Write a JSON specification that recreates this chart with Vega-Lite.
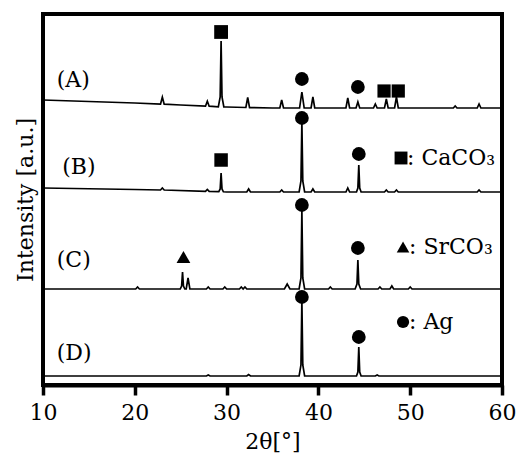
{
  "$schema": "https://vega.github.io/schema/vega-lite/v6.json",
  "width": 459,
  "height": 371,
  "autosize": {"type": "none"},
  "padding": {"left": 43, "top": 14, "right": 15, "bottom": 70},
  "background": "white",
  "config": {
    "view": {"stroke": "black", "strokeWidth": 4},
    "font": "DejaVu Serif",
    "axis": {"grid": false}
  },
  "datasets": {
    "xrd": [
      {"s":"A","t":10,"i":285},{"s":"A","t":15,"i":283.5},{"s":"A","t":20,"i":282},
      {"s":"A","t":22.8,"i":280.8},{"s":"A","t":23.0,"i":287.8},{"s":"A","t":23.2,"i":280.8},
      {"s":"A","t":25,"i":280},
      {"s":"A","t":27.7,"i":278.8},{"s":"A","t":27.9,"i":283.8},{"s":"A","t":28.1,"i":278.8},
      {"s":"A","t":29.1,"i":278.2},{"s":"A","t":29.3,"i":288},{"s":"A","t":29.4,"i":344},{"s":"A","t":29.5,"i":288},{"s":"A","t":29.7,"i":278},
      {"s":"A","t":30,"i":278},
      {"s":"A","t":32.1,"i":277.5},{"s":"A","t":32.3,"i":287.5},{"s":"A","t":32.5,"i":277.4},
      {"s":"A","t":35,"i":277},
      {"s":"A","t":35.8,"i":277},{"s":"A","t":36.0,"i":285},{"s":"A","t":36.2,"i":277},
      {"s":"A","t":37.95,"i":277},{"s":"A","t":38.2,"i":293},{"s":"A","t":38.45,"i":277},
      {"s":"A","t":39.2,"i":277},{"s":"A","t":39.4,"i":288},{"s":"A","t":39.6,"i":277},
      {"s":"A","t":43.0,"i":277},{"s":"A","t":43.2,"i":287},{"s":"A","t":43.4,"i":277},
      {"s":"A","t":44.1,"i":277},{"s":"A","t":44.3,"i":283},{"s":"A","t":44.5,"i":277},
      {"s":"A","t":46.0,"i":277},{"s":"A","t":46.2,"i":281},{"s":"A","t":46.4,"i":277},
      {"s":"A","t":47.2,"i":277},{"s":"A","t":47.4,"i":286},{"s":"A","t":47.6,"i":277},
      {"s":"A","t":48.3,"i":277},{"s":"A","t":48.5,"i":288},{"s":"A","t":48.7,"i":277},
      {"s":"A","t":54.7,"i":277},{"s":"A","t":54.9,"i":279},{"s":"A","t":55.1,"i":277},
      {"s":"A","t":57.3,"i":277},{"s":"A","t":57.5,"i":281},{"s":"A","t":57.7,"i":277},
      {"s":"A","t":60,"i":277},

      {"s":"B","t":10,"i":197},{"s":"B","t":20,"i":195.5},
      {"s":"B","t":22.8,"i":195},{"s":"B","t":23.0,"i":197},{"s":"B","t":23.2,"i":195},
      {"s":"B","t":27.7,"i":193.6},{"s":"B","t":27.9,"i":195.6},{"s":"B","t":28.1,"i":193.6},
      {"s":"B","t":29.15,"i":193.3},{"s":"B","t":29.3,"i":196},{"s":"B","t":29.4,"i":212},{"s":"B","t":29.5,"i":196},{"s":"B","t":29.65,"i":193.2},
      {"s":"B","t":30,"i":193},
      {"s":"B","t":32.2,"i":193},{"s":"B","t":32.4,"i":196},{"s":"B","t":32.6,"i":193},
      {"s":"B","t":35.8,"i":193},{"s":"B","t":36.0,"i":195},{"s":"B","t":36.2,"i":193},
      {"s":"B","t":37.9,"i":193},{"s":"B","t":38.1,"i":204},{"s":"B","t":38.2,"i":263},{"s":"B","t":38.3,"i":204},{"s":"B","t":38.5,"i":193},
      {"s":"B","t":39.2,"i":193},{"s":"B","t":39.4,"i":196},{"s":"B","t":39.6,"i":193},
      {"s":"B","t":43.0,"i":193},{"s":"B","t":43.2,"i":197},{"s":"B","t":43.4,"i":193},
      {"s":"B","t":44.15,"i":193},{"s":"B","t":44.3,"i":197},{"s":"B","t":44.4,"i":220},{"s":"B","t":44.5,"i":197},{"s":"B","t":44.65,"i":193},
      {"s":"B","t":47.2,"i":193},{"s":"B","t":47.4,"i":195},{"s":"B","t":47.6,"i":193},
      {"s":"B","t":48.3,"i":193},{"s":"B","t":48.5,"i":195},{"s":"B","t":48.7,"i":193},
      {"s":"B","t":57.3,"i":193},{"s":"B","t":57.5,"i":195},{"s":"B","t":57.7,"i":193},
      {"s":"B","t":60,"i":193},

      {"s":"C","t":10,"i":96},
      {"s":"C","t":20.1,"i":96},{"s":"C","t":20.3,"i":98},{"s":"C","t":20.5,"i":96},
      {"s":"C","t":24.95,"i":96},{"s":"C","t":25.1,"i":99},{"s":"C","t":25.2,"i":113},{"s":"C","t":25.3,"i":99},{"s":"C","t":25.45,"i":96},
      {"s":"C","t":25.6,"i":96},{"s":"C","t":25.8,"i":107},{"s":"C","t":26.0,"i":96},
      {"s":"C","t":27.8,"i":96},{"s":"C","t":28.0,"i":98},{"s":"C","t":28.2,"i":96},
      {"s":"C","t":29.6,"i":96},{"s":"C","t":29.8,"i":98},{"s":"C","t":30.0,"i":96},
      {"s":"C","t":31.4,"i":96},{"s":"C","t":31.6,"i":98},{"s":"C","t":31.8,"i":96},{"s":"C","t":32.0,"i":98},{"s":"C","t":32.2,"i":96},
      {"s":"C","t":36.3,"i":96},{"s":"C","t":36.6,"i":101},{"s":"C","t":36.9,"i":96},
      {"s":"C","t":37.9,"i":96},{"s":"C","t":38.1,"i":107},{"s":"C","t":38.2,"i":175},{"s":"C","t":38.3,"i":107},{"s":"C","t":38.5,"i":96},
      {"s":"C","t":41.1,"i":96},{"s":"C","t":41.3,"i":98},{"s":"C","t":41.5,"i":96},
      {"s":"C","t":44.0,"i":96},{"s":"C","t":44.2,"i":101},{"s":"C","t":44.3,"i":125},{"s":"C","t":44.4,"i":101},{"s":"C","t":44.6,"i":96},
      {"s":"C","t":46.5,"i":96},{"s":"C","t":46.7,"i":98},{"s":"C","t":46.9,"i":96},
      {"s":"C","t":47.8,"i":96},{"s":"C","t":48.0,"i":99},{"s":"C","t":48.2,"i":96},
      {"s":"C","t":49.8,"i":96},{"s":"C","t":50.0,"i":98},{"s":"C","t":50.2,"i":96},
      {"s":"C","t":60,"i":96},

      {"s":"D","t":10,"i":9},
      {"s":"D","t":27.8,"i":9},{"s":"D","t":28.0,"i":10},{"s":"D","t":28.2,"i":9},
      {"s":"D","t":32.2,"i":9},{"s":"D","t":32.4,"i":10.5},{"s":"D","t":32.6,"i":9},
      {"s":"D","t":37.9,"i":9},{"s":"D","t":38.1,"i":20},{"s":"D","t":38.2,"i":85},{"s":"D","t":38.3,"i":20},{"s":"D","t":38.5,"i":9},
      {"s":"D","t":44.15,"i":9},{"s":"D","t":44.3,"i":13},{"s":"D","t":44.4,"i":38},{"s":"D","t":44.5,"i":13},{"s":"D","t":44.65,"i":9},
      {"s":"D","t":46.2,"i":9},{"s":"D","t":46.4,"i":10},{"s":"D","t":46.6,"i":9},
      {"s":"D","t":60,"i":9}
    ],
    "markers": [
      {"phase":"CaCO3","cls":"major","t":29.4,"i":353},
      {"phase":"Ag","cls":"major","t":38.2,"i":306},
      {"phase":"Ag","cls":"major","t":44.3,"i":298},
      {"phase":"CaCO3","cls":"minor","t":47.15,"i":294},
      {"phase":"CaCO3","cls":"minor","t":48.7,"i":294},
      {"phase":"CaCO3","cls":"mid","t":29.4,"i":225},
      {"phase":"Ag","cls":"major","t":38.2,"i":267},
      {"phase":"Ag","cls":"major","t":44.4,"i":231},
      {"phase":"SrCO3","cls":"major","t":25.3,"i":128},
      {"phase":"Ag","cls":"major","t":38.2,"i":180},
      {"phase":"Ag","cls":"major","t":44.3,"i":137},
      {"phase":"Ag","cls":"major","t":38.2,"i":88},
      {"phase":"Ag","cls":"major","t":44.4,"i":48}
    ],
    "labels": [
      {"label":"(A)","t":11.5,"i":305},
      {"label":"(B)","t":12.1,"i":218},
      {"label":"(C)","t":11.5,"i":125},
      {"label":"(D)","t":11.5,"i":32}
    ],
    "legend": [
      {"phase":"CaCO3","text":": CaCO₃","t":49.0,"i":227},
      {"phase":"SrCO3","text":": SrCO₃","t":49.22,"i":138},
      {"phase":"Ag","text":": Ag","t":49.22,"i":63}
    ]
  },
  "layer": [
    {
      "data": {"name": "xrd"},
      "mark": {"type": "line", "color": "black", "strokeWidth": 1.7, "interpolate": "linear"},
      "encoding": {
        "x": {
          "field": "t", "type": "quantitative",
          "scale": {"domain": [10, 60], "nice": false, "zero": false},
          "axis": {
            "values": [10, 20, 30, 40, 50, 60],
            "labelFlush": false,
            "title": "2θ[°]",
            "titleFontSize": 22, "titleFontWeight": "normal", "titleColor": "black", "titlePadding": 8,
            "labelFontSize": 22, "labelColor": "black", "labelPadding": 7,
            "tickSize": 10, "tickWidth": 3.5, "tickColor": "black",
            "domainColor": "black", "domainWidth": 4
          }
        },
        "y": {
          "field": "i", "type": "quantitative",
          "scale": {"domain": [0, 371], "nice": false, "zero": false},
          "axis": {
            "title": "Intensity [a.u.]",
            "titleFontSize": 22, "titleFontWeight": "normal", "titleColor": "black", "titlePadding": 6,
            "labels": false, "ticks": false, "domain": false
          }
        },
        "detail": {"field": "s"}
      }
    },
    {
      "data": {"name": "markers"},
      "mark": {"type": "point", "filled": true, "color": "black", "opacity": 1},
      "encoding": {
        "x": {"field": "t", "type": "quantitative"},
        "y": {"field": "i", "type": "quantitative"},
        "shape": {"field": "phase", "type": "nominal", "scale": {"domain": ["CaCO3", "SrCO3", "Ag"], "range": ["square", "triangle-up", "circle"]}, "legend": null},
        "size": {"field": "cls", "type": "nominal", "scale": {"domain": ["major", "mid", "minor"], "range": [190, 150, 110]}, "legend": null}
      }
    },
    {
      "data": {"name": "labels"},
      "mark": {"type": "text", "align": "left", "baseline": "middle", "fontSize": 22, "color": "black"},
      "encoding": {
        "x": {"field": "t", "type": "quantitative"},
        "y": {"field": "i", "type": "quantitative"},
        "text": {"field": "label"}
      }
    },
    {
      "data": {"name": "legend"},
      "mark": {"type": "point", "filled": true, "color": "black", "opacity": 1},
      "encoding": {
        "x": {"field": "t", "type": "quantitative"},
        "y": {"field": "i", "type": "quantitative"},
        "shape": {"field": "phase", "type": "nominal", "scale": {"domain": ["CaCO3", "SrCO3", "Ag"], "range": ["square", "triangle-up", "circle"]}, "legend": null},
        "size": {"field": "phase", "type": "nominal", "scale": {"domain": ["CaCO3", "SrCO3", "Ag"], "range": [140, 150, 150]}, "legend": null}
      }
    },
    {
      "data": {"name": "legend"},
      "mark": {"type": "text", "align": "left", "baseline": "middle", "fontSize": 22, "color": "black", "dx": 6},
      "encoding": {
        "x": {"field": "t", "type": "quantitative"},
        "y": {"field": "i", "type": "quantitative"},
        "text": {"field": "text"}
      }
    }
  ]
}
